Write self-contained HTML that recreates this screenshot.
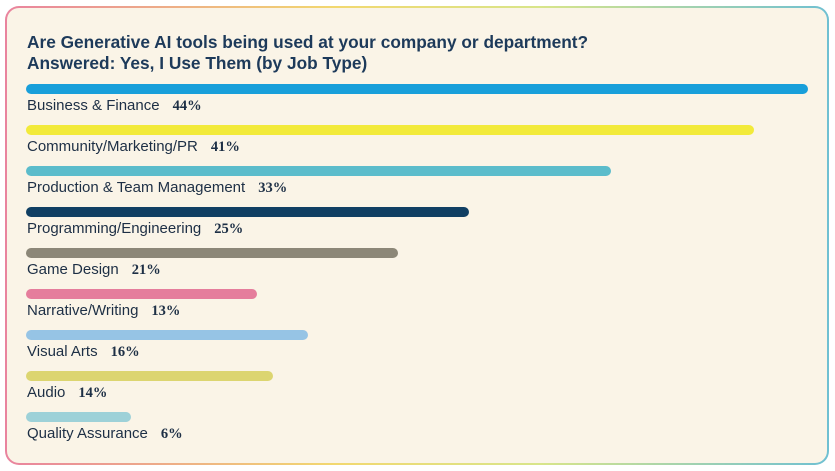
<!DOCTYPE html><html><head><style>
body{margin:0;width:835px;height:471px;background:#fff;font-family:"Liberation Sans",sans-serif;position:relative;overflow:hidden}
.frame{position:absolute;left:5px;top:6px;width:824px;height:459px;border-radius:14px;background:linear-gradient(90deg,#e9839e,#f2d870 40%,#d8e58a 65%,#6fc0d2);}
.inner{position:absolute;left:2px;top:2px;right:2px;bottom:2px;border-radius:12px;background:#faf4e7}
h1{position:absolute;left:27px;top:32px;margin:0;font-size:17.3px;line-height:21px;color:#1d3a5a;font-weight:bold}
.bar{position:absolute;left:26px;height:10px;border-radius:5px}
.lab{position:absolute;left:27px;font-size:15px;color:#1d2f45;white-space:nowrap}
.lab b{margin-left:13px;font-family:"Liberation Serif",serif;font-size:14.5px}
</style></head><body>
<div class="frame"><div class="inner"></div></div>
<h1>Are Generative AI tools being used at your company or department?<br>Answered: Yes, I Use Them (by Job Type)</h1>
<div class="bar" style="top:84px;width:782px;background:#189fda"></div><div class="lab" style="top:97px">Business &amp; Finance<b>44%</b></div>
<div class="bar" style="top:125px;width:728px;background:#f2ea3a"></div><div class="lab" style="top:138px">Community/Marketing/PR<b>41%</b></div>
<div class="bar" style="top:166px;width:585px;background:#5bbccb"></div><div class="lab" style="top:179px">Production &amp; Team Management<b>33%</b></div>
<div class="bar" style="top:207px;width:443px;background:#103f63"></div><div class="lab" style="top:220px">Programming/Engineering<b>25%</b></div>
<div class="bar" style="top:248px;width:372px;background:#8c8778"></div><div class="lab" style="top:261px">Game Design<b>21%</b></div>
<div class="bar" style="top:289px;width:231px;background:#e57d9c"></div><div class="lab" style="top:302px">Narrative/Writing<b>13%</b></div>
<div class="bar" style="top:330px;width:282px;background:#96c4e5"></div><div class="lab" style="top:343px">Visual Arts<b>16%</b></div>
<div class="bar" style="top:371px;width:247px;background:#dcd570"></div><div class="lab" style="top:384px">Audio<b>14%</b></div>
<div class="bar" style="top:412px;width:105px;background:#9dd1d8"></div><div class="lab" style="top:425px">Quality Assurance<b>6%</b></div>
</body></html>
